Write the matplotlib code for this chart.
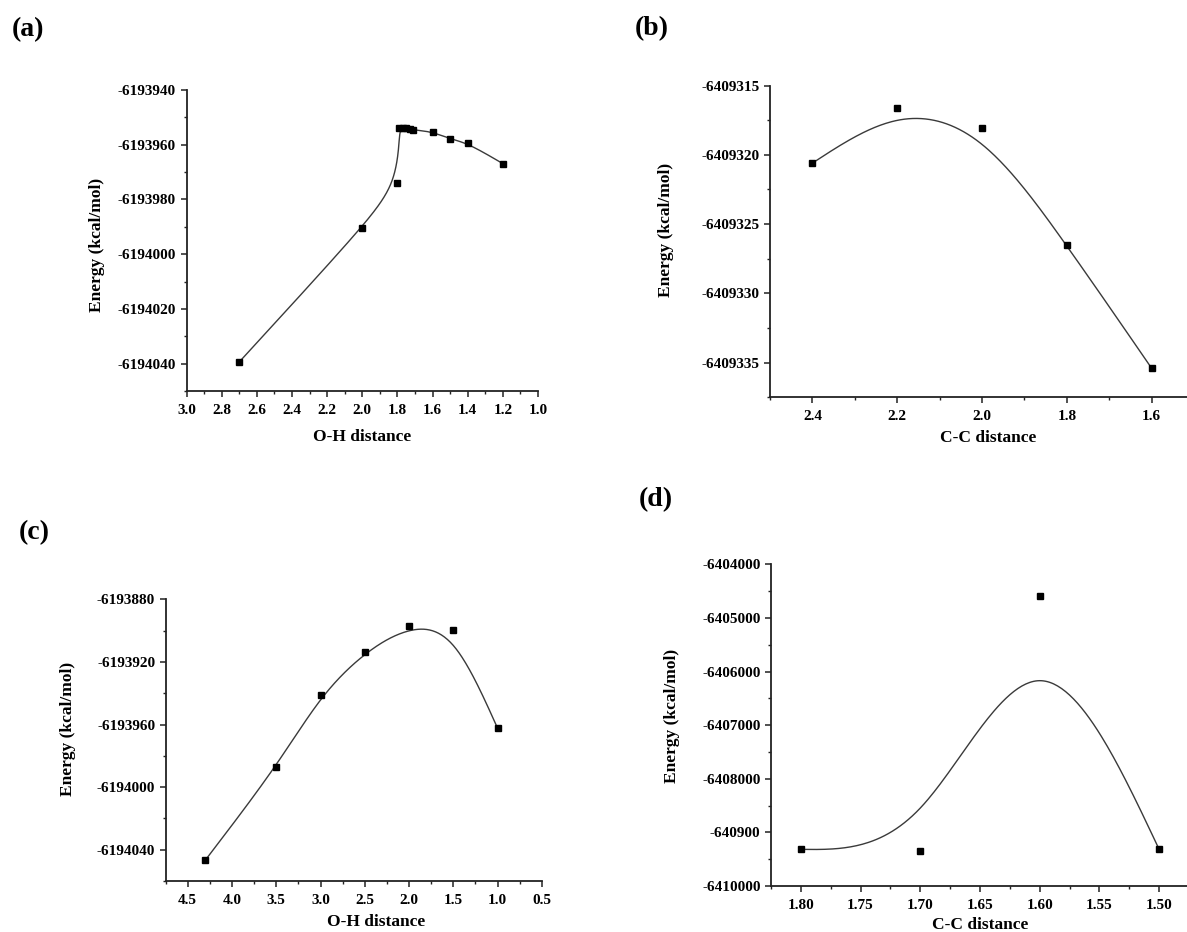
import numpy as np
import matplotlib
matplotlib.use("Agg")
import matplotlib.pyplot as plt
from matplotlib.ticker import FixedLocator, FixedFormatter, MultipleLocator

# ---- data ----
# (a) O-H distance scan
a_x = [2.7, 2.0, 1.8, 1.79, 1.77, 1.75, 1.73, 1.71, 1.6, 1.5, 1.4, 1.2]
a_y = [-6194039.4, -6193990.4, -6193973.9, -6193954.0, -6193954.0, -6193954.0,
       -6193954.3, -6193954.5, -6193955.3, -6193957.9, -6193959.4, -6193966.9]
a_yticks = [-6193940, -6193960, -6193980, -6194000, -6194020, -6194040]
a_xticks = [3.0, 2.8, 2.6, 2.4, 2.2, 2.0, 1.8, 1.6, 1.4, 1.2, 1.0]

# (b) C-C distance scan
b_x = [2.4, 2.2, 2.0, 1.8, 1.6]
b_y = [-6409320.6, -6409316.6, -6409318.1, -6409326.5, -6409335.4]
b_yticks = [-6409315, -6409320, -6409325, -6409330, -6409335]
b_xticks = [2.4, 2.2, 2.0, 1.8, 1.6]

# (c) O-H distance scan
c_x = [4.3, 3.5, 3.0, 2.5, 2.0, 1.5, 1.0]
c_y = [-6194046.6, -6193987.4, -6193941.3, -6193913.6, -6193897.0, -6193899.4, -6193962.3]
c_yticks = [-6193880, -6193920, -6193960, -6194000, -6194040]
c_xticks = [4.5, 4.0, 3.5, 3.0, 2.5, 2.0, 1.5, 1.0, 0.5]

# (d) C-C distance scan
d_x = [1.8, 1.7, 1.6, 1.5]
d_y = [-6409317, -6409342, -6404591, -6409317]
d_yticks = [-6404000, -6405000, -6406000, -6407000, -6408000, -6409000, -6410000]
d_ylabels = ["-6404000", "-6405000", "-6406000", "-6407000", "-6408000", "-640900", "-6410000"]
d_xticks = [1.80, 1.75, 1.70, 1.65, 1.60, 1.55, 1.50]

W, H = 1187, 932
SERIF = ["Liberation Serif", "DejaVu Serif"]
plt.rcParams["font.family"] = SERIF
plt.rcParams["font.weight"] = "bold"


def bspline(x, y, n=60):
    # uniform cubic B-spline with the data as control points (ends pinned)
    P = np.column_stack([x, y]).astype(float)
    P = np.vstack([2 * P[0] - P[1], P, 2 * P[-1] - P[-2]])
    t = np.linspace(0, 1, n, endpoint=False)[:, None]
    b0 = (1 - t) ** 3 / 6
    b1 = (3 * t ** 3 - 6 * t ** 2 + 4) / 6
    b2 = (-3 * t ** 3 + 3 * t ** 2 + 3 * t + 1) / 6
    b3 = t ** 3 / 6
    segs = []
    for i in range(len(P) - 3):
        segs.append(b0 * P[i] + b1 * P[i + 1] + b2 * P[i + 2] + b3 * P[i + 3])
    segs.append(P[-2][None, :])
    curve = np.vstack(segs)
    return curve[:, 0], curve[:, 1]


def px_rect(left, top, right, bottom):
    return [left / W, 1 - bottom / H, (right - left) / W, (bottom - top) / H]


def panel(fig, rect, x, y, xlim, ylim, xticks, xlabels, xminor, yticks, ylabels, yminor,
          xlab, ylab, xlab_pos, ylab_pos):
    ax = fig.add_axes(px_rect(*rect))
    cx, cy = bspline(x, y)
    ax.plot(cx, cy, color="#3a3a3a", lw=1.0, zorder=2)
    ax.plot(x, y, ls="none", marker="s", ms=5, color="black", zorder=3)
    ax.set_xlim(*xlim)
    ax.set_ylim(*ylim)
    ax.xaxis.set_major_locator(FixedLocator(xticks))
    ax.xaxis.set_major_formatter(FixedFormatter(xlabels))
    ax.xaxis.set_minor_locator(MultipleLocator(xminor))
    ax.yaxis.set_major_locator(FixedLocator(yticks))
    ax.yaxis.set_major_formatter(FixedFormatter(ylabels))
    ax.yaxis.set_minor_locator(MultipleLocator(yminor))
    for s in ["top", "right"]:
        ax.spines[s].set_visible(False)
    for s in ["left", "bottom"]:
        ax.spines[s].set_linewidth(1.3)
        ax.spines[s].set_color("#222222")
    ax.tick_params(which="major", direction="out", length=4.5, width=1.1, color="#222222",
                   labelsize=11, pad=3)
    ax.tick_params(which="minor", direction="out", length=2.5, width=1.0, color="#222222")
    ax.tick_params(axis="x", which="major", pad=5)
    for lab in ax.get_xticklabels() + ax.get_yticklabels():
        lab.set_fontweight("bold")
    ax.set_xlabel(xlab, fontsize=12.5, fontweight="bold")
    ax.set_ylabel(ylab, fontsize=12.5, fontweight="bold")
    # place axis labels by pixel position
    l, t, r, b = rect
    ax.xaxis.set_label_coords((xlab_pos[0] - l) / (r - l), (b - xlab_pos[1]) / (b - t))
    ax.yaxis.set_label_coords((ylab_pos[0] - l) / (r - l), (b - ylab_pos[1]) / (b - t))
    ax.xaxis.label.set_va("center")
    ax.yaxis.label.set_va("center")
    return ax


fig = plt.figure(figsize=(W / 100, H / 100), dpi=100)
fig.patch.set_facecolor("white")

panel(fig, (186.5, 90, 538, 391), a_x, a_y, (3.0, 1.0), (-6194050, -6193940),
      a_xticks, [f"{v:.1f}" for v in a_xticks], 0.1,
      a_yticks, [str(v) for v in a_yticks], 10,
      "O-H distance", "Energy (kcal/mol)", (362, 437), (97, 245))

panel(fig, (770, 85.5, 1194, 397.3), b_x, b_y, (2.5, 1.5), (-6409337.5, -6409315),
      b_xticks, [f"{v:.1f}" for v in b_xticks], 0.1,
      b_yticks, [str(v) for v in b_yticks], 2.5,
      "C-C distance", "Energy (kcal/mol)", (988, 438), (666, 230))

panel(fig, (165.6, 599.3, 541.8, 881), c_x, c_y, (4.75, 0.5), (-6194060, -6193880),
      c_xticks, [f"{v:.1f}" for v in c_xticks], 0.25,
      c_yticks, [str(v) for v in c_yticks], 20,
      "O-H distance", "Energy (kcal/mol)", (376, 922), (68, 729))

panel(fig, (771, 564.3, 1189, 886), d_x, d_y, (1.825, 1.475), (-6410000, -6404000),
      d_xticks, [f"{v:.2f}" for v in d_xticks], 0.025,
      d_yticks, d_ylabels, 500,
      "C-C distance", "Energy (kcal/mol)", (980, 925), (672, 716))

for lab, (px, py) in zip(["(a)", "(b)", "(c)", "(d)"],
                         [(28, 30), (652, 29), (34, 533), (656, 500)]):
    fig.text(px / W, 1 - py / H, lab, fontsize=20, fontweight="bold",
             ha="center", va="center")

fig.savefig("out.png", dpi=100, facecolor="white")
